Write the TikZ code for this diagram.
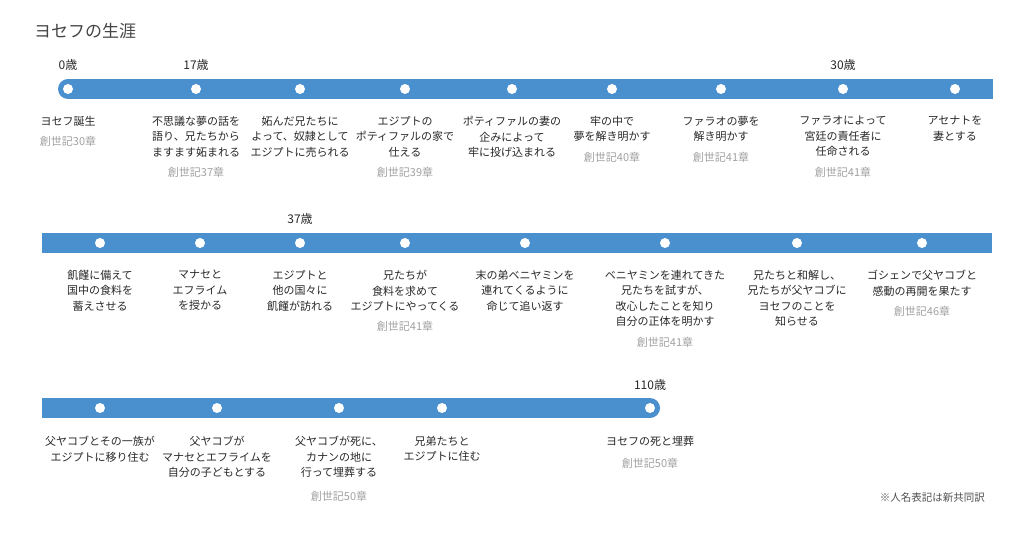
\documentclass[tikz,border=0pt]{standalone}
\usepackage{fontspec}
\setmainfont{Noto Sans CJK JP}
\definecolor{barblue}{RGB}{74,143,206}
\definecolor{txt}{RGB}{40,40,40}
\definecolor{ttl}{RGB}{68,68,68}
\definecolor{refgray}{RGB}{160,160,160}
\definecolor{notegray}{RGB}{80,80,80}
\begin{document}
\begin{tikzpicture}[x=1pt,y=-1pt,
  dotnode/.style={circle,fill=white,inner sep=0pt,minimum size=10pt},
  agelabel/.style={font=\fontsize{12}{14}\selectfont,text=txt,inner sep=0pt},
  ev/.style={font=\fontsize{11}{15.5}\selectfont,text=txt,align=center,inner sep=0pt,anchor=north},
  reflabel/.style={font=\fontsize{11}{14}\selectfont,text=refgray,inner sep=0pt},
]
\useasboundingbox (0,0) rectangle (1024,534);

% title
\node[anchor=west,inner sep=0pt,font=\fontsize{17}{20}\selectfont,text=ttl] (title) at (34,31) {ヨセフの生涯};

% ---------- row 1 ----------
\fill[barblue] (68,89) circle[radius=10];
\fill[barblue] (68,79) rectangle (993,99);
\foreach \x [count=\i] in {68,196,300,405,512,612,721,843,955}
  \node[dotnode] (a\i) at (\x,89) {};
\node[agelabel] (age0) at (68,65) {0歳};
\node[agelabel] (age17) at (196,65) {17歳};
\node[agelabel] (age30) at (843,65) {30歳};

\node[ev] (e11) at (68,116) {ヨセフ誕生};
\node[ev] (e12) at (196,116) {不思議な夢の話を\\語り、兄たちから\\ますます妬まれる};
\node[ev] (e13) at (300,116) {妬んだ兄たちに\\よって、奴隷として\\エジプトに売られる};
\node[ev] (e14) at (405,116) {エジプトの\\ポティファルの家で\\仕える};
\node[ev] (e15) at (512,116) {ポティファルの妻の\\企みによって\\牢に投げ込まれる};
\node[ev] (e16) at (612,116) {牢の中で\\夢を解き明かす};
\node[ev] (e17) at (721,116) {ファラオの夢を\\解き明かす};
\node[ev] (e18) at (843,116) {ファラオによって\\宮廷の責任者に\\任命される};
\node[ev] (e19) at (955,116) {アセナトを\\妻とする};

\node[reflabel] (r11) at (68,141) {創世記30章};
\node[reflabel] (r12) at (196,172) {創世記37章};
\node[reflabel] (r14) at (405,172) {創世記39章};
\node[reflabel] (r16) at (612,157) {創世記40章};
\node[reflabel] (r17) at (721,157) {創世記41章};
\node[reflabel] (r18) at (843,172) {創世記41章};

% ---------- row 2 ----------
\fill[barblue] (42,233) rectangle (992,253);
\foreach \x [count=\i] in {100,200,300,405,525,665,797,922}
  \node[dotnode] (b\i) at (\x,243) {};
\node[agelabel] (age37) at (300,219) {37歳};

\node[ev] (e21) at (100,270) {飢饉に備えて\\国中の食料を\\蓄えさせる};
\node[ev] (e22) at (200,270) {マナセと\\エフライム\\を授かる};
\node[ev] (e23) at (300,270) {エジプトと\\他の国々に\\飢饉が訪れる};
\node[ev] (e24) at (405,270) {兄たちが\\食料を求めて\\エジプトにやってくる};
\node[ev] (e25) at (525,270) {末の弟ベニヤミンを\\連れてくるように\\命じて追い返す};
\node[ev] (e26) at (665,270) {ベニヤミンを連れてきた\\兄たちを試すが、\\改心したことを知り\\自分の正体を明かす};
\node[ev] (e27) at (797,270) {兄たちと和解し、\\兄たちが父ヤコブに\\ヨセフのことを\\知らせる};
\node[ev] (e28) at (922,270) {ゴシェンで父ヤコブと\\感動の再開を果たす};

\node[reflabel] (r24) at (405,326) {創世記41章};
\node[reflabel] (r26) at (665,342) {創世記41章};
\node[reflabel] (r28) at (922,311) {創世記46章};

% ---------- row 3 ----------
\fill[barblue] (42,398) rectangle (650,418);
\fill[barblue] (650,408) circle[radius=10];
\foreach \x [count=\i] in {100,217,339,442,650}
  \node[dotnode] (c\i) at (\x,408) {};
\node[agelabel] (age110) at (650,385) {110歳};

\node[ev] (e31) at (100,436) {父ヤコブとその一族が\\エジプトに移り住む};
\node[ev] (e32) at (217,436) {父ヤコブが\\マナセとエフライムを\\自分の子どもとする};
\node[ev] (e33) at (339,436) {父ヤコブが死に、\\カナンの地に\\行って埋葬する};
\node[ev] (e34) at (442,436) {兄弟たちと\\エジプトに住む};
\node[ev] (e35) at (650,436) {ヨセフの死と埋葬};

\node[reflabel] (r33) at (339,496) {創世記50章};
\node[reflabel] (r35) at (650,463) {創世記50章};

\node[anchor=east,inner sep=0pt,font=\fontsize{10.5}{12}\selectfont,text=notegray] (note) at (985,498) {※人名表記は新共同訳};
\end{tikzpicture}
\end{document}
